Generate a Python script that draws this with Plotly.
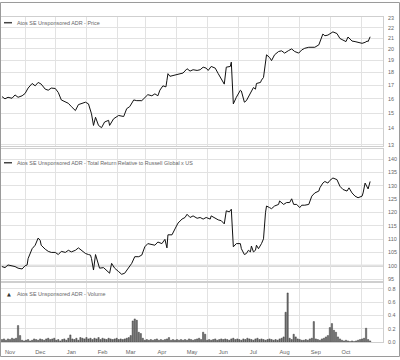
import plotly.graph_objects as go
import pandas as pd

W, H = 400, 360

# ---------------- data ----------------
price_dates = [
    "2013-10-24","2013-10-27","2013-10-30","2013-11-03","2013-11-06","2013-11-09","2013-11-13","2013-11-16","2013-11-19","2013-11-23",
    "2013-11-26","2013-11-29","2013-12-02","2013-12-06","2013-12-09","2013-12-12","2013-12-16","2013-12-19","2013-12-22","2013-12-26",
    "2013-12-29","2014-01-01","2014-01-05","2014-01-08","2014-01-11","2014-01-15","2014-01-18","2014-01-21","2014-01-23","2014-01-25",
    "2014-01-28","2014-01-31","2014-02-03","2014-02-07","2014-02-08","2014-02-12","2014-02-17","2014-02-22","2014-02-25","2014-02-28",
    "2014-03-04","2014-03-07","2014-03-12","2014-03-15","2014-03-18","2014-03-22","2014-03-25","2014-03-28","2014-03-30","2014-04-02",
    "2014-04-05","2014-04-06","2014-04-07","2014-04-09","2014-04-16","2014-04-22","2014-04-26","2014-04-29","2014-05-02","2014-05-06",
    "2014-05-09","2014-05-12","2014-05-15","2014-05-17","2014-05-20","2014-05-24","2014-05-27","2014-05-30","2014-06-02","2014-06-04",
    "2014-06-08","2014-06-09","2014-06-11","2014-06-14","2014-06-18","2014-06-19","2014-06-22","2014-06-24","2014-06-28","2014-07-01",
    "2014-07-03","2014-07-04","2014-07-08","2014-07-09","2014-07-11","2014-07-13","2014-07-14","2014-07-17","2014-07-19","2014-07-22",
    "2014-07-26","2014-07-29","2014-08-01","2014-08-05","2014-08-08","2014-08-11","2014-08-15","2014-08-18","2014-08-21","2014-08-25",
    "2014-08-31","2014-09-04","2014-09-05","2014-09-08","2014-09-10","2014-09-13","2014-09-17","2014-09-18","2014-09-22","2014-09-25",
    "2014-09-28","2014-10-01","2014-10-03","2014-10-07","2014-10-10","2014-10-13","2014-10-17","2014-10-20","2014-10-22","2014-10-23",
    "2014-10-25",
]
price = [
    16.15,15.99,16.10,16.03,16.27,16.10,16.21,16.38,16.78,17.13,
    16.95,17.21,17.08,16.70,16.62,16.78,16.75,16.45,15.91,15.79,
    15.67,15.44,15.17,15.58,15.63,15.75,15.63,14.95,14.19,14.72,
    14.19,14.05,14.41,14.52,14.19,14.62,14.84,14.77,15.30,15.44,
    15.91,15.86,15.86,16.10,16.29,16.21,16.35,16.21,16.62,16.95,
    16.87,17.38,17.90,17.69,17.85,17.95,18.30,18.11,18.22,18.16,
    18.22,18.43,18.35,18.16,18.49,18.35,17.90,17.50,17.08,18.43,
    18.49,18.85,15.63,16.10,16.62,16.56,15.75,15.86,16.45,16.82,
    16.70,17.13,17.21,17.39,17.60,18.69,19.48,19.25,18.98,19.48,
    19.77,19.83,19.63,19.86,20.00,19.77,19.63,19.91,20.06,20.15,
    20.15,20.37,20.67,21.38,21.22,21.28,21.53,21.59,21.43,20.96,
    20.81,20.67,21.10,20.72,20.67,20.57,20.51,20.60,20.72,20.67,
    21.12,
]

rel_dates = [
    "2013-10-24","2013-10-27","2013-10-30","2013-11-03","2013-11-06","2013-11-09","2013-11-13","2013-11-16","2013-11-18","2013-11-19",
    "2013-11-23","2013-11-26","2013-11-29","2013-12-01","2013-12-02","2013-12-06","2013-12-09","2013-12-12","2013-12-16","2013-12-19",
    "2013-12-22","2013-12-26","2013-12-29","2014-01-01","2014-01-05","2014-01-08","2014-01-11","2014-01-15","2014-01-18","2014-01-20",
    "2014-01-21","2014-01-23","2014-01-25","2014-01-28","2014-01-29","2014-02-02","2014-02-05","2014-02-08","2014-02-10","2014-02-13",
    "2014-02-17","2014-02-20","2014-02-23","2014-02-27","2014-03-02","2014-03-05","2014-03-09","2014-03-12","2014-03-15","2014-03-18",
    "2014-03-22","2014-03-25","2014-03-28","2014-04-01","2014-04-04","2014-04-06","2014-04-07","2014-04-11","2014-04-14","2014-04-17",
    "2014-04-21","2014-04-24","2014-04-26","2014-04-29","2014-05-02","2014-05-06","2014-05-09","2014-05-12","2014-05-15","2014-05-19",
    "2014-05-20","2014-05-24","2014-05-27","2014-05-30","2014-06-02","2014-06-04","2014-06-07","2014-06-09","2014-06-11","2014-06-14",
    "2014-06-18","2014-06-19","2014-06-22","2014-06-24","2014-06-26","2014-06-28","2014-06-29","2014-07-01","2014-07-03","2014-07-04",
    "2014-07-06","2014-07-09","2014-07-11","2014-07-13","2014-07-14","2014-07-17","2014-07-19","2014-07-22","2014-07-26","2014-07-27",
    "2014-07-31","2014-08-03","2014-08-06","2014-08-08","2014-08-10","2014-08-13","2014-08-16","2014-08-18","2014-08-21","2014-08-25",
    "2014-08-28","2014-08-31","2014-09-04","2014-09-05","2014-09-08","2014-09-10","2014-09-13","2014-09-15","2014-09-18","2014-09-22",
    "2014-09-25","2014-09-28","2014-10-02","2014-10-04","2014-10-07","2014-10-10","2014-10-13","2014-10-17","2014-10-18","2014-10-20",
    "2014-10-23","2014-10-25",
]
rel = [
    99.7,99.3,100.3,100.0,99.7,99.1,98.8,100.0,100.3,102.7,
    106.4,107.7,110.4,109.5,107.7,106.2,105.4,105.0,105.0,104.2,
    105.4,105.0,105.8,105.2,105.8,106.7,105.8,104.6,104.2,104.0,
    102.7,98.4,104.2,100.9,99.1,99.3,98.4,97.2,100.9,99.1,
    97.8,96.8,97.2,99.1,100.9,103.4,103.4,104.0,107.1,108.3,
    107.9,107.7,108.9,108.3,109.9,106.7,111.6,111.6,113.8,116.0,
    117.5,118.1,119.3,118.1,118.7,117.8,118.1,117.5,118.1,117.5,
    118.7,117.8,117.2,116.9,115.7,120.6,120.2,121.2,107.1,108.3,
    108.3,106.4,104.2,104.6,105.8,105.2,107.4,105.2,105.8,107.7,
    106.4,108.3,110.1,120.0,122.4,121.8,121.4,122.4,123.0,124.3,
    123.0,123.7,123.7,125.1,123.0,123.0,121.8,122.7,122.7,123.0,
    126.1,127.3,128.0,129.2,131.0,131.6,131.0,132.0,132.9,132.3,
    129.8,128.6,128.0,129.2,127.3,126.1,125.5,126.1,127.3,131.0,
    128.8,131.6,
]
rel_base = 100

vol_start = "2013-10-24"
volume = [
    0.04,0.05,0.03,0.05,0.04,0.06,0.05,0.06,0.25,0.10,
    0.03,0.02,0.03,0.04,0.02,0.03,0.05,0.04,0.03,0.05,
    0.04,0.03,0.05,0.06,0.04,0.05,0.06,0.03,0.04,0.02,
    0.04,0.05,0.03,0.06,0.11,0.05,0.04,0.06,0.03,0.07,
    0.06,0.05,0.07,0.05,0.06,0.04,0.06,0.05,0.07,0.04,
    0.06,0.05,0.04,0.06,0.05,0.04,0.05,0.06,0.04,0.05,
    0.04,0.05,0.06,0.07,0.10,0.32,0.35,0.33,0.15,0.13,
    0.06,0.03,0.04,0.03,0.04,0.03,0.04,0.05,0.03,0.04,
    0.03,0.04,0.05,0.07,0.03,0.04,0.03,0.04,0.03,0.04,
    0.03,0.04,0.03,0.05,0.04,0.03,0.04,0.05,0.06,0.04,
    0.15,0.12,0.03,0.04,0.03,0.04,0.05,0.03,0.04,0.05,
    0.04,0.05,0.04,0.03,0.05,0.06,0.04,0.05,0.04,0.03,
    0.05,0.04,0.06,0.05,0.04,0.03,0.05,0.06,0.04,0.05,
    0.04,0.03,0.04,0.05,0.04,0.03,0.04,0.03,0.05,0.06,
    0.08,0.45,0.74,0.06,0.04,0.12,0.08,0.05,0.04,0.03,
    0.03,0.04,0.03,0.05,0.06,0.31,0.05,0.04,0.03,0.05,
    0.06,0.08,0.10,0.22,0.28,0.18,0.15,0.08,0.05,0.03,
    0.02,0.03,0.02,0.01,0.02,0.01,0.02,0.03,0.04,0.05,
    0.06,0.21,0.04,0.02,
]
vol_dates = pd.date_range(vol_start, periods=len(volume), freq="2D")

month_starts = ["2013-11-01","2013-12-01","2014-01-01","2014-02-01","2014-03-01","2014-04-01",
                "2014-05-01","2014-06-01","2014-07-01","2014-08-01","2014-09-01","2014-10-01"]
month_labels = ["Nov","Dec","Jan","Feb","Mar","Apr","May","Jun","Jul","Aug","Sep","Oct"]
mid_months = ["2013-11-16","2013-12-16","2014-01-16","2014-02-16","2014-03-16","2014-04-16",
              "2014-05-16","2014-06-16","2014-07-16","2014-08-16","2014-09-16","2014-10-16"]
x_range = ["2013-10-23 01:00", "2014-11-06 19:00"]

price_ticks = [13, 14, 15, 16, 17, 18, 19, 20, 21, 22, 23]
rel_ticks = [95, 100, 105, 110, 115, 120, 125, 130, 135, 140]
vol_ticks = [0.0, 0.2, 0.4, 0.6, 0.8]

title_price = "Atos SE Unsponsored ADR - Price"
title_rel = "Atos SE Unsponsored ADR - Total Return Relative to Russell Global x US"
title_vol = "Atos SE Unsponsored ADR - Volume"

# ---------------- layout helpers ----------------
def fx(p):
    return p / W

def fy(p):
    return 1 - p / H

FONT = "Liberation Sans, Arial, sans-serif"
GRID = "#e2e2e2"
TXT = "#666666"
FS = 5.4

fig = go.Figure()
fig.add_trace(go.Scatter(x=price_dates, y=price, mode="lines",
                         line=dict(color="#111111", width=1), xaxis="x", yaxis="y"))
fig.add_trace(go.Scatter(x=rel_dates, y=rel, mode="lines",
                         line=dict(color="#111111", width=1), xaxis="x2", yaxis="y2"))
fig.add_trace(go.Bar(x=vol_dates, y=volume, width=1.3 * 86400000,
                     marker=dict(color="#777777", line=dict(color="#222222", width=0.4)),
                     xaxis="x3", yaxis="y3"))

xdom = [fx(1), fx(383)]
xcommon = dict(domain=xdom, type="date", range=x_range, tickmode="array",
               tickvals=month_starts, ticktext=month_labels, showgrid=False,
               ticks="", zeroline=False, showline=True, linecolor="#cfcfcf", linewidth=1,
               mirror=True,
               minor=dict(tickmode="array", tickvals=mid_months, showgrid=True,
                          gridcolor=GRID, gridwidth=1, ticks=""),
               tickfont=dict(family=FONT, size=FS + 0.3, color=TXT))

ycommon = dict(side="right", showgrid=True, gridcolor=GRID, gridwidth=1, zeroline=False,
               showline=True, linecolor="#cfcfcf", linewidth=1, ticks="",
               ticklabelstandoff=3,
               tickfont=dict(family=FONT, size=FS, color=TXT))

fig.update_layout(
    width=W, height=H, margin=dict(l=0, r=0, t=0, b=0),
    paper_bgcolor="white", plot_bgcolor="white", showlegend=False,
    xaxis=dict(**xcommon, anchor="y", showticklabels=False),
    xaxis2=dict(**xcommon, anchor="y2", matches="x", showticklabels=False),
    xaxis3=dict(**xcommon, anchor="y3", matches="x", showticklabels=True,
                ticklabelstandoff=4),
    yaxis=dict(**ycommon, anchor="x", type="log", domain=[fy(146), fy(15)],
               range=[1.1120, 1.36365], tickmode="array", tickvals=price_ticks,
               ticktext=[str(v) for v in price_ticks]),
    yaxis2=dict(**ycommon, anchor="x2", domain=[fy(283), fy(149)],
                range=[94.26, 143.8], tickmode="array", tickvals=rel_ticks),
    yaxis3=dict(**ycommon, anchor="x3", domain=[fy(345), fy(285)],
                range=[0, 0.889], tickmode="array", tickvals=vol_ticks,
                ticktext=[f"{v:.1f}" for v in vol_ticks]),
)

# baseline of relative performance
fig.add_shape(type="line", xref="x2 domain", yref="y2", x0=0, x1=1,
              y0=rel_base, y1=rel_base, line=dict(color="#cccccc", width=2), layer="below")

# panel labels (legend-like)
for ylab, text in [(21, title_price), (163, title_rel)]:
    fig.add_shape(type="line", xref="paper", yref="paper", x0=fx(4), x1=fx(12),
                  y0=fy(ylab), y1=fy(ylab), line=dict(color="#444444", width=1.5))
    fig.add_annotation(xref="paper", yref="paper", x=fx(15), y=fy(ylab), text=text,
                       showarrow=False, xanchor="left", yanchor="middle",
                       font=dict(family=FONT, size=FS, color=TXT))
fig.add_annotation(xref="paper", yref="paper", x=fx(5), y=fy(296), text="▲",
                   showarrow=False, xanchor="left", yanchor="middle",
                   font=dict(family="DejaVu Sans", size=5, color="#333333"))
fig.add_annotation(xref="paper", yref="paper", x=fx(15), y=fy(296), text=title_vol,
                   showarrow=False, xanchor="left", yanchor="middle",
                   font=dict(family=FONT, size=FS, color=TXT))

# outer frame
fig.add_shape(type="rect", xref="paper", yref="paper", x0=fx(0.5), x1=fx(399.5),
              y0=fy(359.5), y1=fy(0.5), line=dict(color="#9a9a9a", width=1))

fig.write_html("out.html")
